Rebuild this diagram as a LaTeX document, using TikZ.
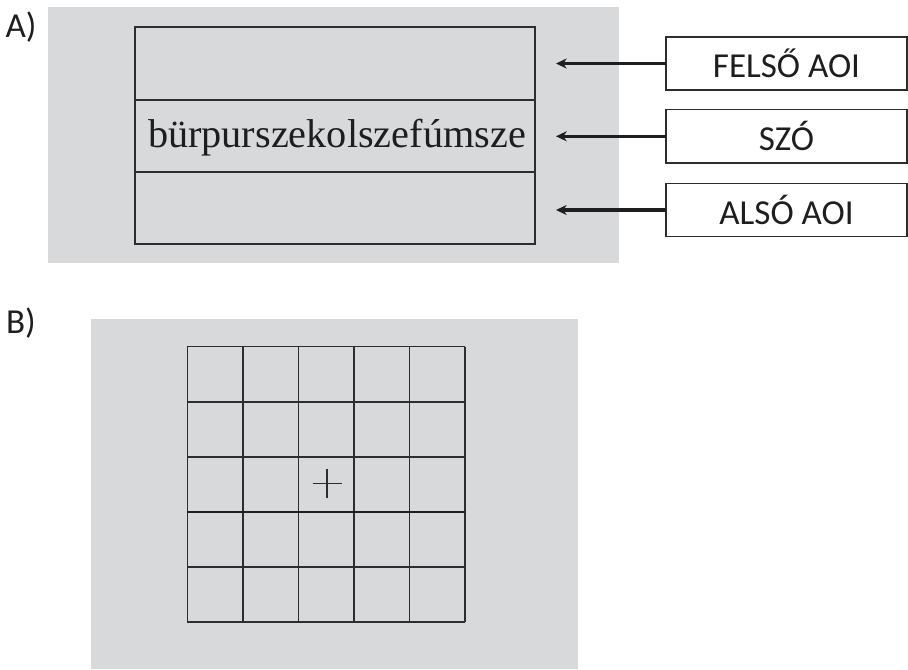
\documentclass[tikz,border=0pt]{standalone}
\usepackage{fontspec}
\setmainfont{Liberation Serif}
\newfontfamily\lblfont{Carlito}
\usetikzlibrary{arrows.meta}
\definecolor{bggray}{RGB}{216,217,219}
\definecolor{linecol}{RGB}{45,45,45}
\definecolor{txtcol}{RGB}{30,30,30}
\begin{document}
\begin{tikzpicture}[x=0.75pt,y=-0.75pt,
  panel/.style={fill=bggray,draw=none},
  aoi/.style={draw=linecol,line width=1.15pt,inner sep=0pt,outer sep=0pt,minimum width=300pt},
  labelbox/.style={draw=linecol,line width=1.15pt,fill=white,inner sep=0pt,outer sep=0pt,minimum width=180.75pt,minimum height=40pt,font=\lblfont\fontsize{26.3}{30}\selectfont,text=txtcol},
  arr/.style={line width=2.4pt,draw=txtcol,-{Stealth[length=8pt,width=7.5pt,inset=2.5pt]}},
  gridline/.style={draw=linecol,line width=1.15pt},
  tag/.style={font=\lblfont\fontsize{26.3}{30}\selectfont,text=txtcol,inner sep=0pt}
]
\useasboundingbox (0,0) rectangle (908,669);
% panel A
\fill[panel] (48,7) rectangle (619,263);
\node[tag] (tagA) at (21,27) {A)};
\node[aoi,minimum height=54.75pt] (upper) at (335,63.5) {};
\node[aoi,minimum height=54pt] (word) at (335,136) {};
\node[aoi,minimum height=54pt] (lower) at (335,208) {};
\node[anchor=base,inner sep=0pt,text=txtcol,font=\fontsize{30.2}{34}\selectfont] (wordtext) at (337,147.7) {bürpurszekolszefúmsze};
% labels
\node[labelbox] (lab1) at (786.5,63.5) {FELSŐ AOI};
\node[labelbox] (lab2) at (786.5,136.3) {SZÓ};
\node[labelbox] (lab3) at (786.5,210) {ALSÓ AOI};
\coordinate (t1) at (556,63.5);
\coordinate (t2) at (556,136.3);
\coordinate (t3) at (556,210);
\draw[arr] (lab1.west) -- (t1);
\draw[arr] (lab2.west) -- (t2);
\draw[arr] (lab3.west) -- (t3);
% panel B
\fill[panel] (91,319) rectangle (578,669);
\node[tag] (tagB) at (21,323) {B)};
\foreach \xx in {187.3,242.8,298.3,353.8,409.5,465} {
  \draw[gridline] (\xx,346.7) -- (\xx,622);
}
\foreach \yy in {346.7,401.8,457,567,622} {
  \draw[gridline] (187.3,\yy) -- (465,\yy);
}
\draw[draw=txtcol,line width=1.8pt] (187.3,511.7) -- (465,511.7);
\draw[draw=linecol,line width=1.15pt] (312.5,483.5) -- (341.5,483.5);
\draw[draw=linecol,line width=1.15pt] (327,469) -- (327,498);
\end{tikzpicture}
\end{document}
